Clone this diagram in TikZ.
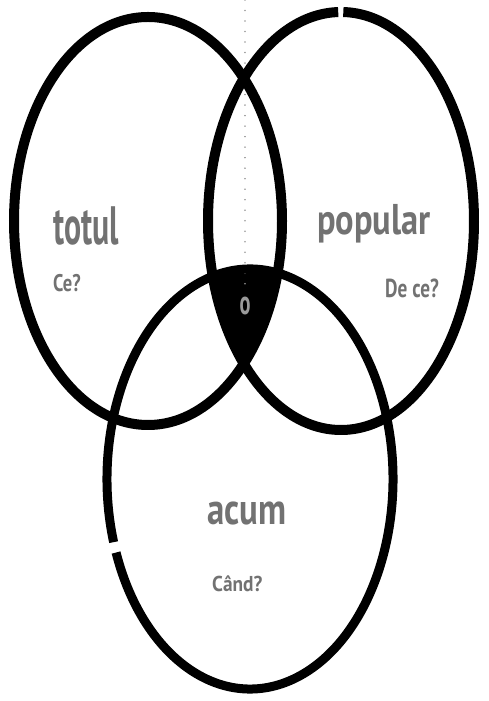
\documentclass[tikz,border=0pt]{standalone}
\usepackage{fontspec}
\usepackage{graphicx}
\setmainfont{PT Sans}
\definecolor{labgray}{HTML}{727272}
\definecolor{dotgray}{HTML}{9A9A9A}
\begin{document}
\begin{tikzpicture}[x=1pt,y=1pt,
  lab/.style={text=labgray, inner sep=0pt, anchor=base west},
  ring/.style={line width=10pt, draw=black}]
\useasboundingbox (0,0) rectangle (488,701);
% centre region (common to all three)
\begin{scope}
  \clip (148,480) ellipse [x radius=134, y radius=204];
  \clip (341,480) ellipse [x radius=133, y radius=209];
  \fill[black] (250,222) ellipse [x radius=143, y radius=210];
\end{scope}
% dotted axis
\coordinate (dtop) at (245,701);
\coordinate (dbot) at (245,409);
\draw[dotgray, line width=1.6pt, dash pattern=on 0.01pt off 10.5pt, line cap=round] (dtop) -- (dbot);
% three rings
\draw[ring] (148,480) ellipse [x radius=134, y radius=204];
\draw[ring] (341,480) ++(91.2:133 and 209) arc[start angle=91.2, end angle=449, x radius=133, y radius=209];
\draw[ring, line width=9pt] (250,222) ++(200.5:143 and 210) arc[start angle=200.5, end angle=557.5, x radius=143, y radius=210];
% labels
\node[lab, font=\bfseries\fontsize{54}{54}\selectfont] (totul) at (53,456) {\scalebox{0.59}[1]{totul}};
\node[lab, font=\bfseries\fontsize{24}{24}\selectfont] (ce) at (53,409) {\scalebox{0.77}[1]{Ce?}};
\node[lab, font=\bfseries\fontsize{43}{43}\selectfont] (popular) at (317,466) {\scalebox{0.80}[1]{popular}};
\node[lab, font=\bfseries\fontsize{26}{26}\selectfont] (dece) at (385,403) {\scalebox{0.74}[1]{De ce?}};
\node[lab, font=\bfseries\fontsize{44}{44}\selectfont] (acum) at (207,176) {\scalebox{0.79}[1]{acum}};
\node[lab, font=\bfseries\fontsize{21.5}{21.5}\selectfont] (cand) at (212,109) {\scalebox{0.9}[1]{Când?}};
\node[text=dotgray, inner sep=0pt, font=\bfseries\fontsize{34}{34}\selectfont] (o) at (245,395) {\scalebox{0.6}[1]{o}};
\end{tikzpicture}
\end{document}
